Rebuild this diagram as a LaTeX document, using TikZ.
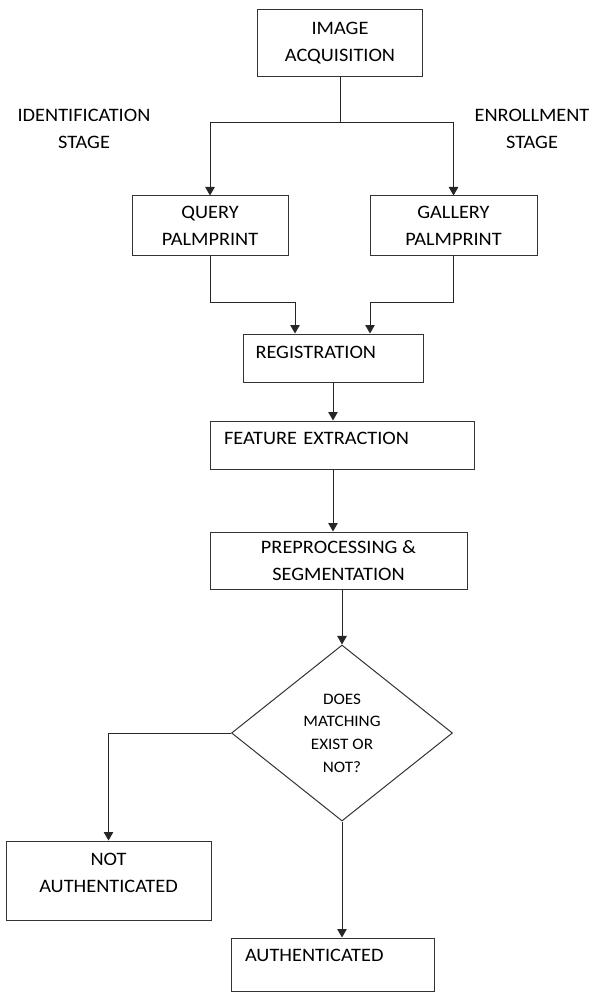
\documentclass[tikz,border=0pt]{standalone}
\usepackage{fontspec}
\setmainfont{Carlito}[FakeStretch=1.07]
\usetikzlibrary{shapes.geometric, arrows.meta, positioning}
\tikzset{
  >=Triangle,
  flowline/.style={line width=1pt, black!85},
  flowarrow/.style={flowline, -{Triangle[length=8.5pt, width=9.5pt]}}
}

\begin{document}
\begin{tikzpicture}[x=1pt, y=-1pt,
    procbox/.style={draw=black!80, line width=1pt, align=center, inner sep=0pt,
      font=\fontsize{19}{27}\selectfont},
    leftbox/.style={procbox, align=left, text width=#1},
    decbox/.style={draw=black!80, line width=1pt, diamond, aspect=1.25, inner sep=0pt,
      align=center, font=\fontsize{16}{22.7}\selectfont},
    stagelabel/.style={align=center, font=\fontsize{19}{27}\selectfont}]
    \useasboundingbox (0,0) rectangle (595,992);
    % capture
    \node (acq) [procbox, minimum width=165pt, minimum height=67pt] at (340,43.5) {IMAGE\\ACQUISITION};
    \node (ident) [stagelabel] at (84,128.5) {IDENTIFICATION\\STAGE};
    \node (enroll) [stagelabel] at (532,128.5) {ENROLLMENT\\STAGE};
    % two branches
    \node (query) [procbox, minimum width=156pt, minimum height=59pt] at (210,225.5) {QUERY\\PALMPRINT};
    \node (gallery) [procbox, minimum width=167pt, minimum height=59pt] at (453.5,225.5) {GALLERY\\PALMPRINT};
    % processing chain
    \node (reg) [leftbox=155pt, minimum width=180pt, minimum height=48pt, text depth=12pt] at (333,358) {REGISTRATION};
    \node (feat) [leftbox=236pt, minimum width=264pt, minimum height=48pt, text depth=14pt] at (342,445) {FEATURE EXTRACTION};
    \node (prep) [procbox, minimum width=257pt, minimum height=57pt] at (338.5,560.5) {PREPROCESSING \&\\SEGMENTATION};
    % decision
    \node (dec) [decbox, minimum width=221pt, minimum height=176pt] at (342,733) {DOES\\MATCHING\\EXIST OR\\NOT?};
    \node (notauth) [procbox, text width=205pt, minimum width=205pt, minimum height=79pt, text depth=42pt] at (108.5,880.5) {NOT\\AUTHENTICATED};
    \node (auth) [leftbox=175pt, minimum width=203pt, minimum height=53pt, text depth=19pt] at (332.5,964.5) {AUTHENTICATED};
    % junctions
    \coordinate (split) at (340,123);
    \coordinate (qjoin) at (295,302);
    \coordinate (gjoin) at (370,302);
    % connectors
    \draw[flowline] (acq) -- (split);
    \draw[flowarrow] (split) -| (query);
    \draw[flowarrow] (split) -| (gallery);
    \draw[flowarrow] (query) |- (qjoin) -- (qjoin |- reg.north);
    \draw[flowarrow] (gallery) |- (gjoin) -- (gjoin |- reg.north);
    \draw[flowarrow] (reg) -- (reg.south |- feat.north);
    \draw[flowarrow] (reg.south |- feat.south) -- (reg.south |- prep.north);
    \draw[flowarrow] (dec.north |- prep.south) -- (dec);
    \draw[flowarrow] (dec) -| (notauth);
    \draw[flowarrow] (dec) -- (dec.south |- auth.north);
\end{tikzpicture}
\end{document}
